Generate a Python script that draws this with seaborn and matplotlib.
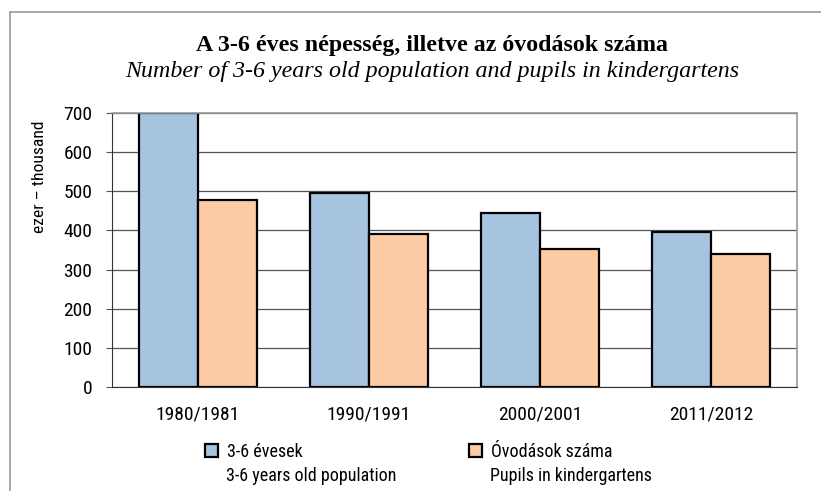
import pandas as pd
import seaborn as sns
import matplotlib.pyplot as plt
from matplotlib.lines import Line2D
from matplotlib.patches import Patch

years = ['1980/1981', '1990/1991', '2000/2001', '2011/2012']
population = [699, 495, 444, 395]
kindergarten = [478, 391, 353, 341]
series_hu = ['3-6 évesek', 'Óvodások száma']
series_en = ['3-6 years old population', 'Pupils in kindergartens']

colors = ['#A6C3DF', '#FDCBA4']

df = pd.concat([
    pd.DataFrame({'year': years, 'value': population, 'series': series_hu[0]}),
    pd.DataFrame({'year': years, 'value': kindergarten, 'series': series_hu[1]}),
])

sns.set_style('white')
narrow = ['Liberation Sans Narrow', 'Roboto Condensed', 'Liberation Sans', 'DejaVu Sans']
serif = ['Liberation Serif', 'DejaVu Serif']
plt.rcParams['font.family'] = narrow
plt.rcParams['text.color'] = 'black'
plt.rcParams['axes.labelcolor'] = 'black'
plt.rcParams['xtick.color'] = 'black'
plt.rcParams['ytick.color'] = 'black'

fig = plt.figure(figsize=(8.21, 4.91), dpi=100)
ax = fig.add_axes([112 / 821, 1 - 387 / 491, (797 - 112) / 821, (387 - 113) / 491])

sns.barplot(data=df, x='year', y='value', hue='series', palette=colors,
            width=0.69, edgecolor='black', linewidth=1.6, saturation=1,
            legend=False, ax=ax)

ax.set_ylim(0, 700)
ax.set_xlim(-0.5, 3.5)
ax.set_yticks(range(0, 701, 100))
ax.yaxis.grid(True, color='#555555', linewidth=0.9)
ax.set_axisbelow(True)
for side in ['top', 'right']:
    ax.spines[side].set_color('#999999')
    ax.spines[side].set_linewidth(1.2)
ax.spines['left'].set_color('#333333')
ax.spines['bottom'].set_color('#333333')

# tick marks between categories, like the original
ax.set_xticks([-0.5, 0.5, 1.5, 2.5, 3.5], minor=True)
ax.set_xticks(range(4))
ax.set_xticklabels(years, fontsize=14)
ax.tick_params(axis='x', which='major', length=0, pad=13)
ax.tick_params(axis='x', which='minor', length=6, color='#555555', direction='out')
ax.tick_params(axis='y', length=4.3, color='#555555', labelsize=14, pad=10, left=True)
ax.set_xlabel('')
ax.set_ylabel('ezer – thousand', fontsize=12.6)
ax.yaxis.set_label_coords((47 - 112) / 685, (387 - 177) / 274)

fig.text(432 / 821, 1 - 45 / 491, 'A 3-6 éves népesség, illetve az óvodások száma',
         ha='center', va='center', fontsize=17.2, fontweight='bold', family=serif)
fig.text(432 / 821, 1 - 72 / 491, 'Number of 3-6 years old population and pupils in kindergartens',
         ha='center', va='center', fontsize=17.3, style='italic', family=serif)

handles = [Patch(facecolor=c, edgecolor='black', linewidth=1.6) for c in colors]
leg = fig.legend(handles, series_hu, loc='center left', ncol=2,
                 bbox_to_anchor=(189 / 821, 1 - 452 / 491), frameon=False,
                 fontsize=13, handlelength=0.72, handleheight=0.72,
                 handletextpad=0.5, columnspacing=9.2, borderpad=0.4)
fig.text(226 / 821, 1 - 476 / 491, series_en[0], ha='left', va='center', fontsize=13)
fig.text(490 / 821, 1 - 476 / 491, series_en[1], ha='left', va='center', fontsize=13)

# outer chart frame (left and top edges visible)
fig.add_artist(Line2D([10 / 821, 10 / 821], [0, 1 - 12 / 491], transform=fig.transFigure,
                      color='#999999', linewidth=1.2))
fig.add_artist(Line2D([10 / 821, 1], [1 - 12 / 491, 1 - 12 / 491], transform=fig.transFigure,
                      color='#999999', linewidth=1.2))

fig.savefig('out.png', dpi=100)
